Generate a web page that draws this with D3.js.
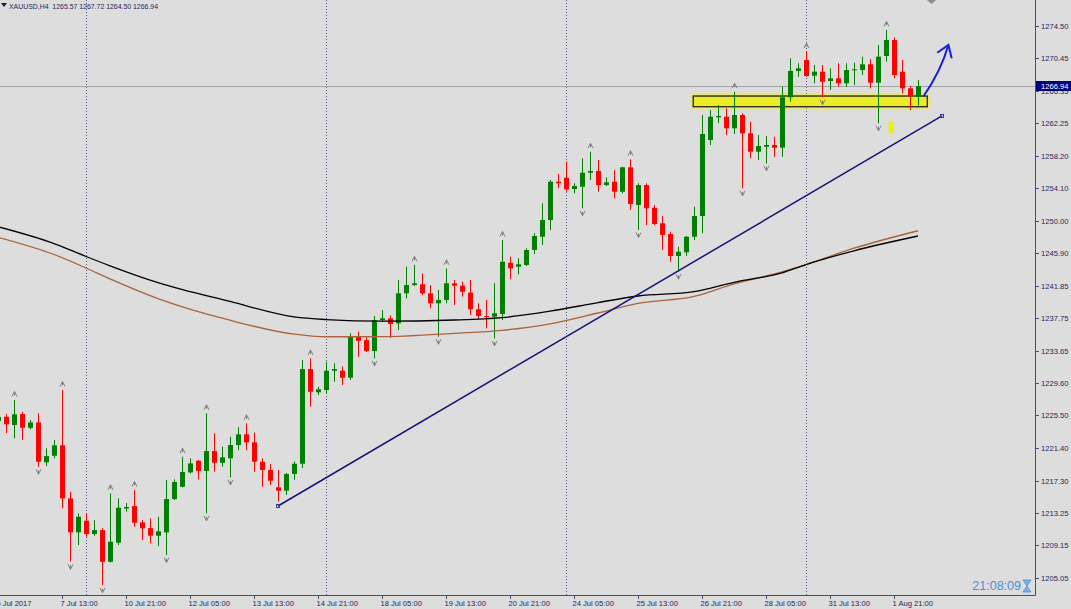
<!DOCTYPE html>
<html><head><meta charset="utf-8">
<script src="https://cdn.jsdelivr.net/npm/d3@7"></script>
<style>
body{margin:0;background:#dddddd;}
svg{display:block;font-family:"Liberation Sans",Arial,sans-serif;}
</style>
</head><body><svg id="c" width="1071" height="609"></svg>
<script>
// ---------- DATA ----------
const symbolTitle = "XAUUSD,H4  1265.57 1267.72 1264.50 1266.94";
const firstIndex = -1;
const opens = [1224.80,1225.34,1224.30,1225.68,1223.95,1224.62,1219.60,1220.43,1221.74,1215.07,1210.79,1212.26,1210.58,1211.08,1207.09,1209.49,1213.79,1214.11,1212.05,1211.33,1210.37,1210.79,1214.98,1216.53,1218.34,1219.80,1218.51,1221.02,1219.55,1220.11,1221.78,1223.12,1222.12,1219.68,1218.64,1216.46,1216.04,1218.14,1219.43,1231.34,1228.41,1228.70,1231.13,1231.13,1230.25,1235.49,1234.98,1233.60,1237.51,1237.72,1237.09,1240.87,1241.91,1242.00,1240.87,1239.61,1240.03,1242.13,1241.83,1240.95,1238.86,1238.01,1237.93,1238.26,1244.71,1244.22,1244.43,1246.32,1247.99,1250.09,1254.91,1255.41,1253.99,1254.28,1256.04,1256.26,1254.49,1254.91,1253.65,1256.72,1251.98,1254.49,1251.64,1249.68,1248.33,1245.56,1246.03,1247.99,1250.59,1260.16,1263.01,1263.09,1261.63,1263.30,1261.00,1258.68,1259.31,1259.53,1259.19,1265.53,1268.84,1270.22,1268.25,1268.75,1267.58,1267.92,1267.29,1268.96,1268.96,1269.68,1267.36,1270.73,1272.74,1268.75,1266.66,1265.57];
const highs = [1225.81,1225.68,1227.44,1225.97,1224.92,1225.77,1221.36,1222.41,1228.70,1215.90,1213.18,1213.18,1212.34,1211.33,1215.70,1215.07,1214.48,1216.12,1212.34,1212.55,1212.76,1217.37,1217.46,1220.31,1220.10,1219.89,1225.77,1223.25,1221.57,1222.82,1224.01,1224.51,1223.34,1220.10,1219.39,1218.64,1218.27,1219.72,1232.47,1232.68,1229.11,1232.26,1232.06,1231.68,1235.83,1236.03,1235.33,1238.01,1238.76,1238.09,1242.54,1244.22,1244.45,1243.38,1241.91,1241.29,1244.01,1242.54,1242.33,1242.54,1239.61,1240.03,1242.13,1247.57,1245.48,1245.27,1246.53,1248.42,1252.19,1255.12,1255.88,1257.43,1254.71,1257.85,1258.68,1257.64,1255.46,1256.38,1256.80,1257.73,1254.71,1254.71,1251.98,1250.59,1248.62,1246.73,1248.08,1251.76,1263.30,1263.93,1264.56,1264.14,1266.23,1263.51,1262.46,1260.79,1260.66,1260.57,1266.86,1270.44,1269.81,1271.27,1269.59,1269.59,1269.18,1269.81,1269.81,1269.88,1270.64,1270.31,1272.11,1274.00,1273.08,1270.22,1266.95,1267.72];
const lows = [1224.30,1223.29,1222.62,1222.41,1223.75,1219.05,1219.14,1220.11,1213.81,1207.09,1209.20,1210.24,1210.37,1204.13,1206.99,1209.20,1213.39,1211.50,1209.83,1209.41,1209.07,1207.94,1214.86,1216.46,1218.21,1217.46,1213.18,1218.42,1219.05,1217.71,1221.15,1221.15,1218.42,1216.53,1216.74,1214.66,1215.49,1217.41,1218.89,1226.60,1228.07,1228.28,1229.74,1229.33,1229.96,1232.89,1233.48,1232.68,1237.29,1235.26,1236.25,1240.24,1241.79,1240.66,1238.98,1235.41,1239.61,1239.40,1240.45,1238.14,1237.60,1236.45,1235.19,1237.51,1242.63,1243.25,1244.30,1245.81,1246.95,1248.83,1254.08,1253.65,1253.45,1251.56,1255.12,1253.65,1254.37,1252.82,1253.45,1251.35,1248.83,1249.46,1249.46,1246.32,1244.84,1243.59,1245.56,1247.57,1248.42,1259.53,1262.26,1260.78,1260.91,1254.08,1257.85,1257.64,1257.22,1258.05,1258.05,1264.97,1268.12,1268.12,1267.29,1265.53,1266.45,1266.86,1266.86,1267.08,1268.34,1266.66,1262.26,1270.01,1267.92,1266.03,1263.93,1264.50];
const closes = [1225.30,1224.38,1225.64,1223.95,1224.62,1219.68,1220.39,1221.74,1215.07,1210.79,1212.76,1210.58,1211.08,1207.09,1209.61,1213.89,1213.98,1212.00,1211.30,1210.37,1210.92,1214.98,1217.12,1218.38,1219.47,1218.51,1221.02,1219.55,1220.23,1221.78,1223.12,1222.12,1219.68,1218.64,1217.29,1216.04,1218.14,1219.43,1231.34,1228.48,1228.79,1231.13,1231.34,1230.25,1235.49,1234.90,1233.60,1237.51,1237.72,1237.00,1240.87,1241.91,1242.13,1240.87,1239.61,1240.03,1242.13,1241.83,1241.07,1238.86,1238.01,1237.93,1238.35,1244.84,1244.01,1244.52,1246.32,1248.08,1250.09,1254.91,1254.71,1253.95,1254.37,1256.04,1256.26,1254.49,1254.83,1253.65,1256.72,1252.10,1254.49,1251.56,1249.59,1248.21,1245.56,1246.10,1247.99,1250.59,1260.91,1263.09,1263.18,1261.63,1263.30,1261.00,1258.68,1259.40,1259.53,1259.19,1265.53,1268.84,1269.18,1268.21,1268.75,1267.49,1267.92,1267.29,1268.96,1269.05,1269.68,1267.36,1270.64,1272.74,1268.33,1266.66,1265.69,1266.94];

const fractalUp = [1,7,13,16,22,25,30,38,51,55,62,73,78,91,100,110];
const fractalDown = [4,8,12,20,25,28,46,54,61,72,79,84,92,95,102,109];

const maIndex = [-1,6,10,13,19,28,36,40,47,56,62,68,74,79,86,91,97,100,106,114];
const maBlack = [1249.25,1247.13,1245.50,1244.33,1242.21,1239.84,1237.91,1237.57,1237.36,1237.51,1237.81,1238.62,1239.70,1240.53,1241.08,1242.25,1243.45,1244.49,1246.22,1248.08];
const maBrown = [1247.91,1245.75,1244.05,1242.69,1240.21,1237.48,1235.72,1235.40,1235.41,1235.84,1236.21,1237.03,1238.39,1239.59,1240.47,1242.04,1243.57,1244.49,1246.54,1248.74];

const priceTicks = [1274.50,1270.45,1266.35,1262.25,1258.20,1254.10,1250.00,1245.90,1241.85,1237.75,1233.65,1229.60,1225.50,1221.40,1217.30,1213.25,1209.15,1205.05];
const timeTickIndex = [-1,7,15,23,31,39,47,55,63,71,79,87,95,103,111];
const timeTickLabels = ["6 Jul 2017","7 Jul 13:00","10 Jul 21:00","12 Jul 05:00","13 Jul 13:00","14 Jul 21:00","18 Jul 05:00","19 Jul 13:00","20 Jul 21:00","24 Jul 05:00","25 Jul 13:00","26 Jul 21:00","28 Jul 05:00","31 Jul 13:00","1 Aug 21:00"];
const separatorIndex = [10,40,70,100];

const currentPrice = 1266.94;
const trendLine = [[34,1214.11],[117,1263.18]];
const zoneRect = [[85.9,1265.69],[115.16,1264.34]];
const smallRect = [[110.3,1262.55],[111.0,1261.00]];
const arrowPath = [[114.66,1265.60],[116.9,1268.9],[117.8,1272.11]];
const arrowHead = [[116.41,1271.14],[117.8,1272.11],[118.21,1270.43]];
const timerText = "21:08:09";

// ---------- SCALES ----------
const W = 1071, H = 609, axisX = 1035, axisY = 595;
const x = d3.scaleLinear().domain([0, 1]).range([6, 14]);
const y = d3.scaleLinear().domain([1205.05, 1274.50]).range([578, 26]);

const svg = d3.select("#c");
svg.append("rect").attr("width", W).attr("height", H).attr("fill", "#dddddd");

const defs = svg.append("defs");
defs.append("clipPath").attr("id","clip")
  .append("rect").attr("x",0).attr("y",0).attr("width",axisX).attr("height",axisY);
defs.append("filter").attr("id","glow").attr("x","-10%").attr("y","-100%").attr("width","120%").attr("height","300%")
  .append("feGaussianBlur").attr("stdDeviation", 1.6);
const g = svg.append("g").attr("clip-path","url(#clip)");

// separators
g.selectAll("line.sep").data(separatorIndex).join("line")
  .attr("x1", d => x(d)+0.5).attr("x2", d => x(d)+0.5)
  .attr("y1", 0).attr("y2", axisY)
  .attr("stroke", "#55558a").attr("stroke-width", 1).attr("stroke-dasharray", "1,2");

// yellow zone (background object) with highlighter glow
const zx0 = x(zoneRect[0][0]), zx1 = x(zoneRect[1][0]), zy0 = y(zoneRect[0][1]), zy1 = y(zoneRect[1][1]);
g.append("rect").attr("x", zx0-2).attr("y", zy0-2).attr("width", zx1-zx0+4).attr("height", zy1-zy0+4)
  .attr("fill", "#eeee30").attr("opacity", 0.8).attr("filter","url(#glow)");
g.append("rect")
  .attr("x", zx0).attr("y", zy0).attr("width", zx1 - zx0).attr("height", zy1 - zy0)
  .attr("fill", "#ecec26").attr("stroke", "#111").attr("stroke-width", 1.2);
g.append("rect")
  .attr("x", x(smallRect[0][0])).attr("y", y(smallRect[0][1]))
  .attr("width", x(smallRect[1][0]) - x(smallRect[0][0]))
  .attr("height", y(smallRect[1][1]) - y(smallRect[0][1]))
  .attr("fill", "#ecec26");

// current price line
g.append("line").attr("x1",0).attr("x2",axisX)
  .attr("y1", Math.round(y(currentPrice))+0.5).attr("y2", Math.round(y(currentPrice))+0.5)
  .attr("stroke","#a3a3a3").attr("stroke-width",1);

// candles
const candles = opens.map((o,k) => ({i: firstIndex + k, o, h: highs[k], l: lows[k], c: closes[k]}));
const cg = g.selectAll("g.candle").data(candles).join("g");
cg.append("line")
  .attr("x1", d => Math.round(x(d.i))+0.5).attr("x2", d => Math.round(x(d.i))+0.5)
  .attr("y1", d => y(d.h)).attr("y2", d => y(d.l))
  .attr("stroke", d => d.c >= d.o ? "#008000" : "#ff0000").attr("stroke-width", 1);
cg.append("rect")
  .attr("x", d => Math.round(x(d.i)) - 2).attr("width", 5)
  .attr("y", d => y(Math.max(d.o, d.c)))
  .attr("height", d => Math.max(1, Math.abs(y(d.o) - y(d.c))))
  .attr("fill", d => d.c >= d.o ? "#008000" : "#ff0000");

// moving averages
const line = d3.line().x(d => x(d[0])).y(d => y(d[1])).curve(d3.curveMonotoneX);
g.append("path").datum(maIndex.map((d,k)=>[d, maBrown[k]]))
  .attr("d", line).attr("fill","none").attr("stroke","#a8643c").attr("stroke-width",1.3);
g.append("path").datum(maIndex.map((d,k)=>[d, maBlack[k]]))
  .attr("d", line).attr("fill","none").attr("stroke","#000000").attr("stroke-width",1.3);

// fractals
const fr = "#808080";
fractalUp.forEach(i => {
  const k = i - firstIndex, cx = Math.round(x(i)) + 0.5, cy = y(highs[k]) - 6;
  g.append("path").attr("d", `M${cx-2.5},${cy+2.5} L${cx},${cy-2.5} L${cx+2.5},${cy+2.5} M${cx},${cy-2.5} L${cx},${cy+1.5}`)
    .attr("fill","none").attr("stroke",fr).attr("stroke-width",1);
});
fractalDown.forEach(i => {
  const k = i - firstIndex, cx = Math.round(x(i)) + 0.5, cy = y(lows[k]) + 5;
  g.append("path").attr("d", `M${cx-2.5},${cy-2.5} L${cx},${cy+2.5} L${cx+2.5},${cy-2.5} M${cx},${cy+2.5} L${cx},${cy-1.5}`)
    .attr("fill","none").attr("stroke",fr).attr("stroke-width",1);
});

// trend line
g.append("line")
  .attr("x1", x(trendLine[0][0])).attr("y1", y(trendLine[0][1]))
  .attr("x2", x(trendLine[1][0])).attr("y2", y(trendLine[1][1]))
  .attr("stroke", "#14147a").attr("stroke-width", 1.5);
trendLine.forEach(p => g.append("rect").attr("x", x(p[0])-1.5).attr("y", y(p[1])-1.5)
  .attr("width",3).attr("height",3).attr("fill","none").attr("stroke","#3a3a9a").attr("stroke-width",1));

// blue arrow
const ap = arrowPath.map(p => [x(p[0]), y(p[1])]);
g.append("path").attr("d", `M${ap[0][0]},${ap[0][1]} Q${ap[1][0]},${ap[1][1]} ${ap[2][0]},${ap[2][1]}`)
  .attr("fill","none").attr("stroke","#1c1ce0").attr("stroke-width",2);
g.append("path").datum(arrowHead).attr("d", d3.line().x(d=>x(d[0])).y(d=>y(d[1])))
  .attr("fill","none").attr("stroke","#1c1ce0").attr("stroke-width",2);

// top gray diamond marker (partially visible)
g.append("path").attr("d","M931.5,-5 L936,0 L931.5,4 L927,0 Z").attr("fill","#8a8a8a");

// axes frame
svg.append("line").attr("x1", axisX+0.5).attr("x2", axisX+0.5).attr("y1",0).attr("y2",axisY+0.5)
  .attr("stroke","#4a4a7a").attr("stroke-width",1);
svg.append("line").attr("x1", 0).attr("x2", axisX+0.5).attr("y1",axisY+0.5).attr("y2",axisY+0.5)
  .attr("stroke","#4a4a7a").attr("stroke-width",1);

const txt = "#26265e";
// price axis
const pa = svg.append("g");
priceTicks.forEach(p => {
  const yy = Math.round(y(p)) + 0.5;
  pa.append("line").attr("x1", axisX).attr("x2", axisX+4).attr("y1", yy).attr("y2", yy).attr("stroke","#4a4a7a");
  pa.append("text").attr("x", axisX+6).attr("y", yy).attr("dy","0.35em")
    .attr("font-size","7.6px").attr("fill",txt).text(p.toFixed(2));
});
// current price label
const cy = Math.round(y(currentPrice));
pa.append("rect").attr("x", axisX+1).attr("y", cy-5).attr("width", W-axisX-1).attr("height", 10).attr("fill","#000080");
pa.append("text").attr("x", axisX+6).attr("y", cy).attr("dy","0.35em")
  .attr("font-size","7.6px").attr("fill","#ffffff").text(currentPrice.toFixed(2));

// time axis
const ta = svg.append("g");
timeTickIndex.forEach((i,k) => {
  const xx = Math.round(x(i)) + 0.5;
  ta.append("line").attr("x1", xx).attr("x2", xx).attr("y1", axisY).attr("y2", axisY+4).attr("stroke","#4a4a7a");
  ta.append("text").attr("x", xx-2).attr("y", 603).attr("dy","0.35em")
    .attr("font-size","7.6px").attr("fill",txt).text(timeTickLabels[k]);
});

// title
svg.append("path").attr("d","M1,3 L7,3 L4,7 Z").attr("fill","#1a1a40");
svg.append("text").attr("x", 9).attr("y", 6).attr("dy","0.35em")
  .attr("font-size","7.6px").attr("fill",txt).style("white-space","pre")
  .attr("textLength", 149).attr("lengthAdjust","spacingAndGlyphs").text(symbolTitle);

// timer
svg.append("text").attr("x", 1021).attr("y", 586).attr("dy","0.35em").attr("text-anchor","end")
  .attr("font-size","12.5px").attr("fill","#4a8fd8").text(timerText);
svg.append("path").attr("d","M1023,580 L1031,580 L1027,586 L1031,592 L1023,592 L1027,586 Z")
  .attr("fill","#7ab0e8").attr("stroke","#4a8fd8").attr("stroke-width",0.8);
</script>
</body></html>
